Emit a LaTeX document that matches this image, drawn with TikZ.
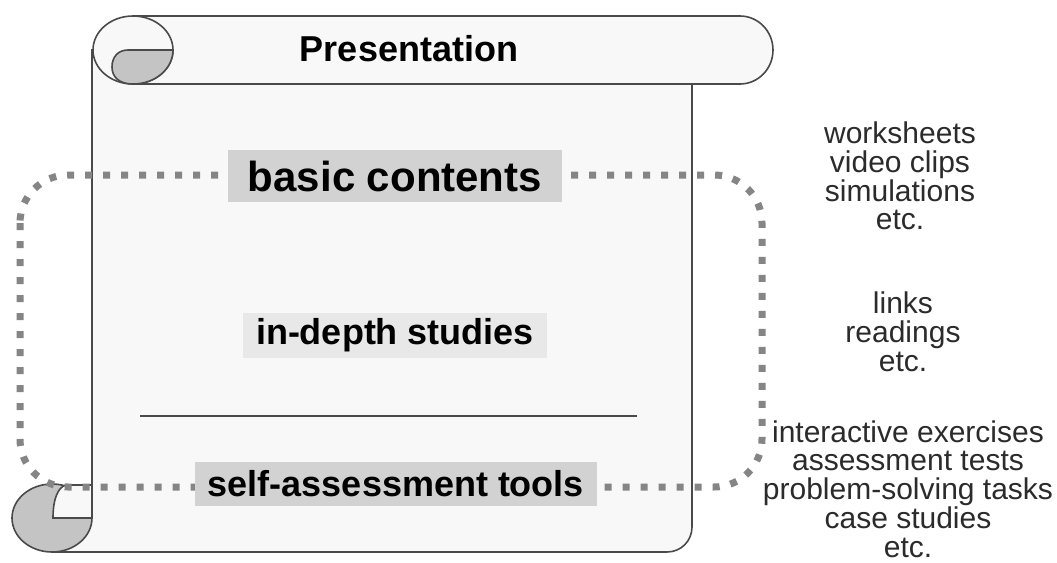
\documentclass[tikz,border=0pt]{standalone}
\usepackage{fontspec}
\setmainfont{Liberation Sans}
\definecolor{rim}{HTML}{4A4A4A}
\definecolor{paper}{HTML}{F8F8F8}
\definecolor{curlgray}{HTML}{C4C4C4}
\definecolor{dotgray}{HTML}{858585}
\definecolor{inkgray}{HTML}{2B2B2B}

\begin{document}
\begin{tikzpicture}[x=0.5pt,y=-0.5pt,
    scroll/.style={draw=rim,line width=0.8pt,fill=paper},
    curl/.style={draw=rim,line width=0.8pt,fill=curlgray},
    ring/.style={draw=dotgray,line width=3.5pt,dash pattern=on 3.5pt off 5.5pt,rounded corners=24pt},
    topic/.style={fill=gray!35,inner sep=0pt},
    list/.style={align=center,inner sep=0pt,text=inkgray,font=\fontsize{15}{14.4}\selectfont}]
  \fill[white] (0,0) rectangle (1057,563);
  \useasboundingbox (0,0) rectangle (1057,563);
  % sheet of the scroll
  \filldraw[scroll] (92,50) -- (92,518) -- (52,518) -- (52,552) -- (667,552)
    .. controls (681,552) and (692,541) .. (692,527) -- (692,50) -- cycle;
  % rolled top
  \filldraw[scroll] (133,16) -- (740,16) .. controls (758,16) and (773,31) .. (773,50)
    .. controls (773,69) and (758,84) .. (740,84) -- (133,84) -- cycle;
  \filldraw[scroll] (133,50) ellipse [x radius=40, y radius=34];
  \filldraw[curl] (128,50) -- (173,50) .. controls (173,69) and (155,84) .. (133,84)
    .. controls (118,84) and (112,76) .. (112,67) .. controls (112,57) and (118,50) .. (128,50) -- cycle;
  % rolled bottom
  \filldraw[curl] (52,518) ellipse [x radius=40, y radius=34];
  \filldraw[scroll] (53,518) .. controls (53,499) and (58,487) .. (66,485) -- (92,485) -- (92,518) -- cycle;
  % divider
  \draw[rim,line width=0.8pt] (140,416) -- (637,416);
  % dotted frame
  \draw[ring] (20,175) rectangle (762,487);
  % labels on the scroll
  \node[font=\fontsize{18}{22}\selectfont\bfseries] (title) at (409,49) {Presentation};
  \node[topic,minimum width=167pt,minimum height=26pt,font=\fontsize{21}{25}\selectfont\bfseries]
    (basic) at (395,176) {basic contents};
  \node[topic,fill=gray!18,minimum width=152pt,minimum height=22.5pt,font=\fontsize{18}{22}\selectfont\bfseries]
    (depth) at (395,335) {in-depth studies};
  \node[topic,minimum width=201pt,minimum height=22pt,font=\fontsize{18}{22}\selectfont\bfseries]
    (selftest) at (396,484) {self-assessment tools};
  % lists on the right
  \node[list] (media) at (900,176) {worksheets\\video clips\\simulations\\etc.};
  \node[list] (reading) at (903,332) {links\\readings\\etc.};
  \node[list] (tasks) at (908,489) {interactive exercises\\assessment tests\\problem-solving tasks\\case studies\\etc.};
\end{tikzpicture}
\end{document}
